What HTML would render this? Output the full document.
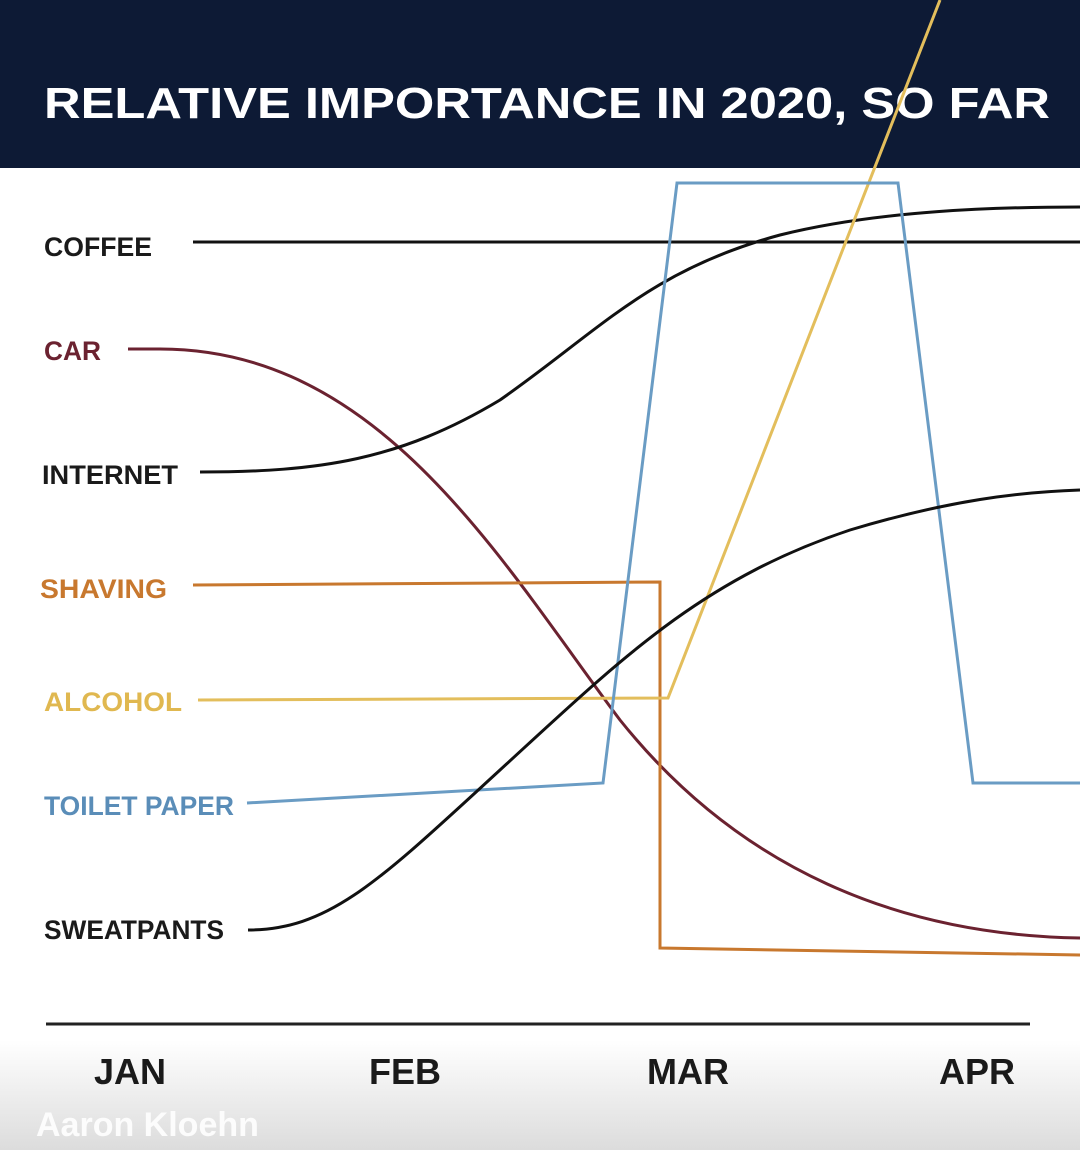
<!DOCTYPE html>
<html><head><style>body{margin:0;background:#fff}svg{display:block}</style></head><body>
<svg width="1080" height="1150" viewBox="0 0 1080 1150" xmlns="http://www.w3.org/2000/svg" font-family="Liberation Sans, sans-serif" font-weight="bold">
<defs><linearGradient id="g" x1="0" y1="0" x2="0" y2="1"><stop offset="0" stop-color="#fff"/><stop offset="1" stop-color="#dcdcdc"/></linearGradient></defs>
<rect x="0" y="1040" width="1080" height="110" fill="url(#g)"/>
<rect x="0" y="0" width="1080" height="168" fill="#0d1a35"/>
<text x="44" y="118" fill="#fff" font-size="44" textLength="1006" lengthAdjust="spacingAndGlyphs">RELATIVE IMPORTANCE IN 2020, SO FAR</text>
<g font-size="27" textLength="">
<text x="44" y="256" fill="#1a1a1a" textLength="108" lengthAdjust="spacingAndGlyphs">COFFEE</text>
<text x="44" y="360" fill="#6b2230" textLength="57" lengthAdjust="spacingAndGlyphs">CAR</text>
<text x="42" y="484" fill="#1a1a1a" textLength="136" lengthAdjust="spacingAndGlyphs">INTERNET</text>
<text x="40" y="598" fill="#c8782e" textLength="127" lengthAdjust="spacingAndGlyphs">SHAVING</text>
<text x="44" y="711" fill="#e0b850" textLength="138" lengthAdjust="spacingAndGlyphs">ALCOHOL</text>
<text x="44" y="815" fill="#5a8db8" textLength="190" lengthAdjust="spacingAndGlyphs">TOILET PAPER</text>
<text x="44" y="939" fill="#1a1a1a" textLength="180" lengthAdjust="spacingAndGlyphs">SWEATPANTS</text>
</g>
<g fill="none" stroke-width="3">
<path d="M193 242 L1080 242" stroke="#111"/>
<path d="M128 349 L160 349 C380 349 500 560 620 720 C740 870 900 935 1080 938" stroke="#6b2230"/>
<path d="M200 472 C320 472 400 460 500 400 C600 330 650 270 780 235 C880 210 1000 207 1080 207" stroke="#111"/>
<path d="M193 585 L660 582 L660 948 L1080 955" stroke="#c8782e"/>
<path d="M198 700 L668 698 L940 0" stroke="#e3be5c"/>
<path d="M247 803 L603 783 L677 183 L898 183 L973 783 L1080 783" stroke="#6a9cc4"/>
<path d="M248 930 C330 930 380 880 500 770 C620 660 700 580 850 530 C950 500 1020 492 1080 490" stroke="#111"/>
<path d="M46 1024 L1030 1024" stroke="#222"/>
</g>
<g font-size="36" fill="#1a1a1a" text-anchor="middle">
<text x="130" y="1084">JAN</text>
<text x="405" y="1084">FEB</text>
<text x="688" y="1084">MAR</text>
<text x="977" y="1084">APR</text>
</g>
<text x="36" y="1136" fill="#fff" font-size="34" opacity="0.9">Aaron Kloehn</text>
</svg>
</body></html>
